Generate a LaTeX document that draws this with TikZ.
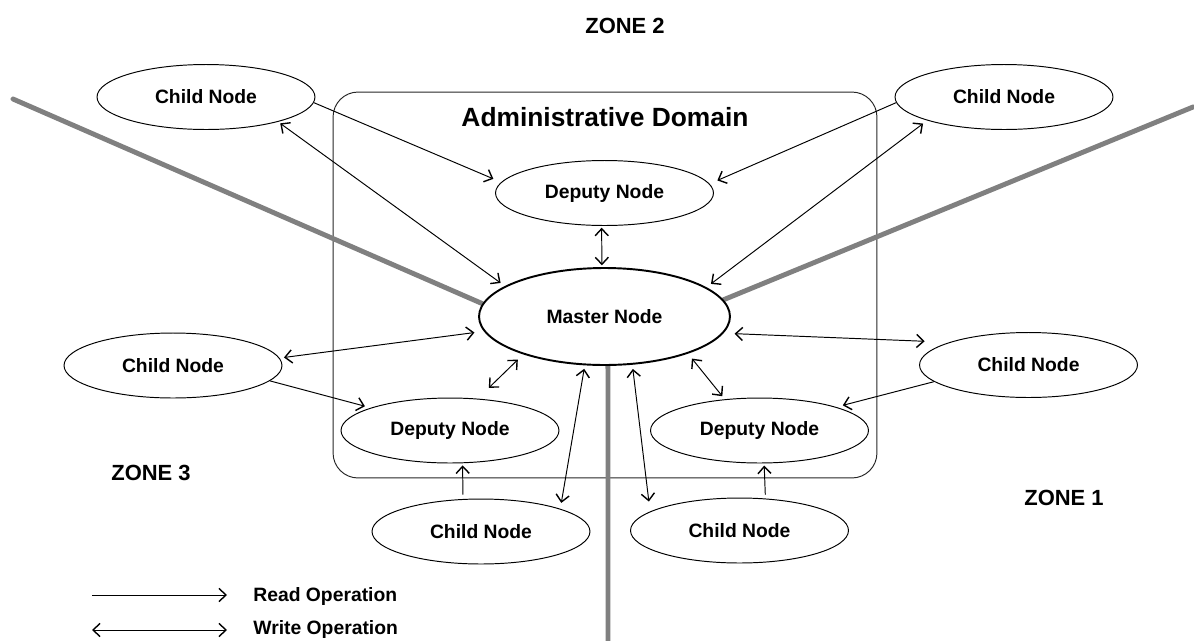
\documentclass[tikz,border=0pt]{standalone}
\usepackage{fontspec}
\setmainfont{Liberation Sans}
\usetikzlibrary{shapes.geometric,arrows.meta,backgrounds}

\begin{document}
\begin{tikzpicture}[x=0.02cm,y=-0.02cm,
  lbl/.style={font=\bfseries\fontsize{11}{13}\selectfont},
  zonelbl/.style={font=\bfseries\fontsize{12.5}{15}\selectfont, inner sep=0pt},
  oval/.style={ellipse, draw, fill=white, line width=0.55pt, inner sep=0pt,
    minimum width=4.36cm, minimum height=1.3cm, lbl},
  masteroval/.style={ellipse, draw, fill=white, line width=1.1pt, inner sep=0pt,
    minimum width=5.02cm, minimum height=1.94cm, lbl},
  tip/.tip={Straight Barb[length=4pt,width=7.5pt,line width=0.8pt]},
  readop/.style={line width=0.55pt, -tip},
  writeop/.style={line width=0.55pt, tip-tip},
  zoneline/.style={line width=2.8pt, draw=black!50, line cap=round},
  domainbox/.style={draw=black!85, line width=0.55pt, rounded corners=0.5cm,
    minimum width=10.88cm, minimum height=7.72cm, inner sep=0pt}
]
\useasboundingbox (0,0) rectangle (1194,640);

% nodes
\node[masteroval] (mast) at (604.5,316.5) {Master Node};
\node[oval] (dtop) at (604.5,193) {Deputy Node};
\node[oval] (dl)   at (450,430.5) {Deputy Node};
\node[oval] (dr)   at (759.5,430.5) {Deputy Node};
\node[oval] (ctl)  at (206,97) {Child Node};
\node[oval] (ctr)  at (1004,97) {Child Node};
\node[oval] (cl)   at (173,365.5) {Child Node};
\node[oval] (cr)   at (1028.5,365) {Child Node};
\node[oval] (cbl)  at (481,531.5) {Child Node};
\node[oval] (cbr)  at (739.5,530.5) {Child Node};

% domain frame and zone borders behind the nodes
\coordinate (zl) at (13,99);
\coordinate (zr) at (1193,107);
\coordinate (zb) at (608,645);
\begin{scope}[on background layer]
  \node[domainbox] (dom) at (605,285) {};
  \draw[zoneline] (zl) -- (mast.174.3);
  \draw[zoneline] (zr) -- (mast.8.4);
  \draw[zoneline, line cap=butt] (mast.274.1) -- (zb);
\end{scope}

\node[font=\bfseries\fontsize{15}{18}\selectfont, inner sep=0pt] (title) at (605,117) {Administrative Domain};

% zone labels
\node[zonelbl] (z2) at (625,26) {ZONE 2};
\node[zonelbl] (z3) at (151,473) {ZONE 3};
\node[zonelbl] (z1) at (1064,498) {ZONE 1};

% read operations (child -> deputy)
\draw[readop, shorten >=4.8pt] (ctl.-3.7) -- (dtop.174.7);
\draw[readop, shorten >=4.8pt] (ctr.183.7) -- (dtop.5.3);
\draw[readop, shorten >=3.4pt] (cl.-9.6) -- (dl.164.9);
\draw[readop, shorten >=3.8pt] (cr.190.4) -- (dr.17.9);
\draw[readop, shorten <=2.5pt, shorten >=1.2pt] (cbl.119.3) -- (dl.291.9);
\draw[readop, shorten <=2.2pt, shorten >=1.2pt] (cbr.51.6) -- (dr.278.8);

% write operations (with the master)
\draw[writeop, shorten <=1.5pt, shorten >=3pt] (ctl.-19.7) -- (mast.163);
\draw[writeop, shorten <=2.9pt, shorten >=3.2pt] (ctr.197.3) -- (mast.16.8);
\draw[writeop, shorten <=1pt, shorten >=1pt] (dtop.265.6) -- (mast.93);
\draw[writeop, shorten <=2.5pt, shorten >=5.4pt] (cl.4.8) -- (mast.187.9);
\draw[writeop, shorten <=14pt, shorten >=6.3pt] (cr.164.1) -- (mast.-8.3);
\draw[writeop, shorten <=8.8pt, shorten >=4.3pt] (dl.49.3) -- (mast.205);
\draw[writeop, shorten <=2.2pt, shorten >=3.6pt] (dr.138.9) -- (mast.-24.4);
\draw[writeop, shorten <=3.4pt, shorten >=2pt] (cbl.16.2) -- (mast.248.6);
\draw[writeop, shorten <=5.7pt, shorten >=2.4pt] (cbr.168.2) -- (mast.300.6);

% legend
\coordinate (ra) at (92,595);
\coordinate (rb) at (227,595);
\coordinate (wa) at (92,630);
\coordinate (wb) at (227,630);
\draw[readop] (ra) -- (rb);
\draw[writeop] (wa) -- (wb);
\node[lbl, anchor=west, inner sep=0pt] (rtxt) at (253,596) {Read Operation};
\node[lbl, anchor=west, inner sep=0pt] (wtxt) at (253,629) {Write Operation};
\end{tikzpicture}
\end{document}
